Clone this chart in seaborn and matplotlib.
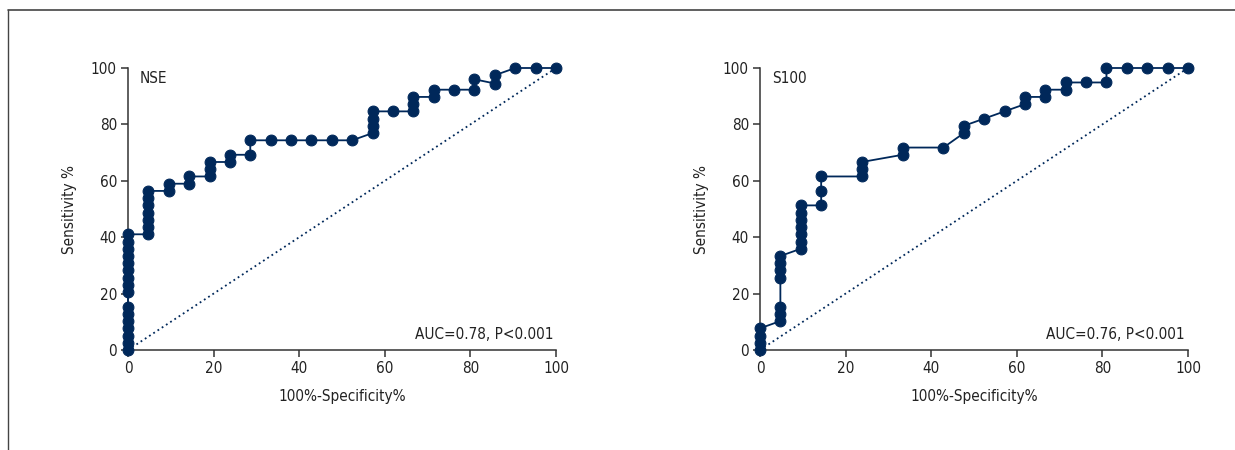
import matplotlib
matplotlib.use("Agg")
import matplotlib.pyplot as plt
import seaborn as sns
import pandas as pd
from matplotlib.lines import Line2D

# ---------------- data ----------------
nse_fpr = [0, 0, 0, 0, 0, 0, 0, 0, 0, 0, 0, 0, 0, 0, 0, 0,
           4.76, 4.76, 4.76, 4.76, 4.76, 4.76, 4.76,
           9.52, 9.52, 14.29, 14.29, 19.05, 19.05, 19.05,
           23.81, 23.81, 28.57, 28.57,
           33.33, 38.10, 42.86, 47.62, 52.38,
           57.14, 57.14, 57.14, 57.14, 61.90,
           66.67, 66.67, 66.67, 71.43, 71.43, 76.19,
           80.95, 80.95, 85.71, 85.71, 90.48, 95.24, 100]
nse_tpr = [0, 2.56, 5.13, 7.69, 10.26, 12.82, 15.38, 20.51, 23.08, 25.64,
           28.21, 30.77, 33.33, 35.90, 38.46, 41.03,
           41.03, 43.59, 46.15, 48.72, 51.28, 53.85, 56.41,
           56.41, 58.97, 58.97, 61.54, 61.54, 64.10, 66.67,
           66.67, 69.23, 69.23, 74.36,
           74.36, 74.36, 74.36, 74.36, 74.36,
           76.92, 79.49, 82.05, 84.62, 84.62,
           84.62, 87.18, 89.74, 89.74, 92.31, 92.31,
           92.31, 96.0, 94.5, 97.44, 100, 100, 100]

s100_fpr = [0, 0, 0, 0,
            4.76, 4.76, 4.76, 4.76, 4.76, 4.76, 4.76,
            9.52, 9.52, 9.52, 9.52, 9.52, 9.52, 9.52,
            14.29, 14.29, 14.29, 23.81, 23.81, 23.81,
            33.33, 33.33, 42.86, 47.62, 47.62, 52.38, 57.14,
            61.90, 61.90, 66.67, 66.67, 71.43, 71.43, 76.19,
            80.95, 80.95, 85.71, 90.48, 95.24, 100]
s100_tpr = [0, 2.56, 5.13, 7.69,
            10.26, 12.82, 15.38, 25.64, 28.21, 30.77, 33.33,
            35.90, 38.46, 41.03, 43.59, 46.15, 48.72, 51.28,
            51.28, 56.41, 61.54, 61.54, 64.10, 66.67,
            69.23, 71.79, 71.79, 76.92, 79.49, 82.05, 84.62,
            87.18, 89.74, 89.74, 92.31, 92.31, 94.87, 94.87,
            94.87, 100, 100, 100, 100, 100]

panel_names = ["NSE", "S100"]
auc_texts = ["AUC=0.78, P<0.001", "AUC=0.76, P<0.001"]
ref_line = [0, 100]
ticks = [0, 20, 40, 60, 80, 100]
x_label = "100%-Specificity%"
y_label = "Sensitivity %"

# ---------------- style ----------------
sns.set_style("ticks")
plt.rcParams["font.family"] = ["Liberation Sans Narrow", "DejaVu Sans"]
plt.rcParams["font.stretch"] = "condensed"

navy = "#00285a"
axis_col = "#333333"
txt_col = "#222222"
fs = 11

fig = plt.figure(figsize=(12.35, 4.5), dpi=100)
lefts = [128 / 1235, 760 / 1235]
w = 428 / 1235
b = 100 / 450
h = 282 / 450

datasets = [(nse_fpr, nse_tpr), (s100_fpr, s100_tpr)]
for i, (fx, ty) in enumerate(datasets):
    ax = fig.add_axes([lefts[i], b, w, h])
    df = pd.DataFrame({"fpr": fx, "tpr": ty})
    sns.lineplot(data=df, x="fpr", y="tpr", sort=False, estimator=None,
                 color=navy, lw=1.3, marker="o", markersize=7.8,
                 markeredgecolor=navy, markerfacecolor=navy, clip_on=False,
                 zorder=5, ax=ax)
    sns.lineplot(x=ref_line, y=ref_line, color=navy, lw=1.3,
                 linestyle=(0, (1, 1.8)), ax=ax, zorder=3)
    ax.set_xlim(0, 100)
    ax.set_ylim(0, 100)
    ax.set_xticks(ticks)
    ax.set_yticks(ticks)
    ax.tick_params(direction="out", length=5, width=1.1, color=axis_col,
                   labelsize=fs, labelcolor=txt_col, pad=3)
    for s in ["top", "right"]:
        ax.spines[s].set_visible(False)
    for s in ["left", "bottom"]:
        ax.spines[s].set_color(axis_col)
        ax.spines[s].set_linewidth(1.1)
    ax.set_xlabel(x_label, fontsize=fs, color=txt_col)
    ax.set_ylabel(y_label, fontsize=fs, color=txt_col)
    ax.xaxis.set_label_coords(0.5, -0.14)
    ax.yaxis.set_label_coords(-0.118, 0.5)
    ax.text(0.028, 0.99, panel_names[i], transform=ax.transAxes,
            fontsize=fs, color=txt_col, ha="left", va="top")
    ax.text(0.993, 0.028, auc_texts[i], transform=ax.transAxes,
            fontsize=fs, color=txt_col, ha="right", va="bottom")
    ax.patch.set_alpha(0)

# figure frame (top and left rules)
fig.add_artist(Line2D([8 / 1235, 1], [1 - 9.5 / 450, 1 - 9.5 / 450],
                      transform=fig.transFigure, color="#444444", lw=1.2))
fig.add_artist(Line2D([8 / 1235, 8 / 1235], [0, 1 - 9.5 / 450],
                      transform=fig.transFigure, color="#444444", lw=1.0))

fig.savefig("out.png", dpi=100)
